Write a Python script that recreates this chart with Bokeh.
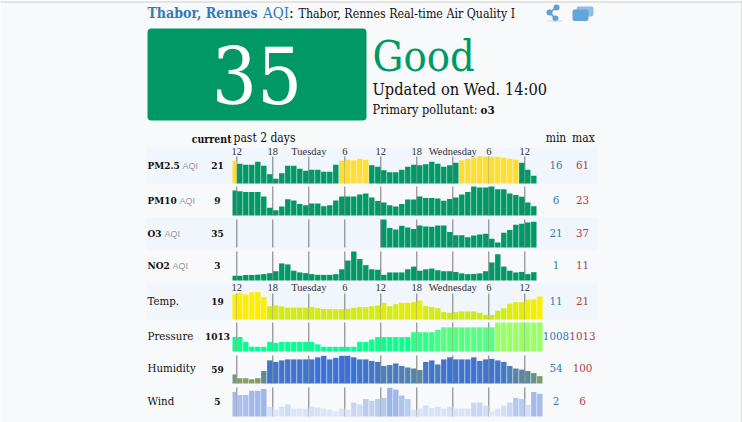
from bokeh.core.properties import value
from bokeh.embed import file_html
from bokeh.models import Range1d
from bokeh.plotting import figure
from bokeh.resources import INLINE

PM25 = [52,46,44,44,50,42,25,16,27,42,42,36,32,34,34,30,30,44,52,54,53,56,54,43,40,33,29,29,34,40,44,43,45,50,46,40,43,48,53,56,59,61,60,60,60,58,56,54,48,34,22]
PM10 = [20.1,19.6,19.1,19.1,19.1,15.8,7.7,6,8.6,13.9,12.9,10.5,9.6,10.8,10.8,8.9,9.6,12.9,15.8,15.8,15.8,17.2,18,15.1,12.5,11.5,9.6,8.6,10.5,13.6,13.6,15.8,14.8,14.8,14.4,12.7,14.1,15.1,17.2,19.1,23,22.3,22.3,23,21.1,21.1,18,16.8,15.6,11.5,8.9]
O3 = [37,31,30,32.6,31.4,30.3,32.8,32.1,31.9,32.8,32.8,28.2,26.1,26.1,24.7,25.9,26.6,27,23.6,21,27.7,29.6,33.3,34,34.9,35.4]
O3_FIRST_HOUR = 36
NO2 = [1,1,1.3,1.3,1.5,1.7,2.1,2.9,6.1,5.7,3.1,2.4,2.1,1.7,1.4,1.4,1.4,1.7,3.7,7.3,11,7.9,5.4,3.7,3.5,1.4,2.4,2.4,2.4,3.7,4.8,3.1,3.7,4,3.3,2.9,2.9,2.6,2,1.7,1.8,2,2.9,6.5,9.9,4.8,3.1,2.4,2.6,1.7,2.5]
TEMP = [20.1,20.7,20,21,21,18.8,14.8,15.1,14.7,14.2,14.2,14.2,14.2,14.4,13.9,13.6,13.6,13.5,13.5,13.6,14.1,14.4,14.4,14.8,15.1,16.3,14.8,15.7,16.3,16.3,16.6,17.3,14.8,14.4,13.9,12.2,11.9,12.2,12.5,12.5,12.5,11.9,11,11,12.8,13.9,15.9,16.6,16.6,17.8,17.9,19.1]
PRESSURE = [1010,1010,1009,1008,1008,1008,1009,1008.8,1009,1009,1009,1009,1009,1009,1008.5,1008,1008,1008,1008,1008,1008,1009,1009,1009.5,1010,1010,1010,1010,1010,1010,1011,1011,1011,1011,1011.5,1012,1012,1012,1012,1012,1012,1012,1012,1012,1013,1013,1013,1013,1013,1013,1013,1013]
HUMIDITY = [63,56,56,54,56,70,91,88,91,93,93,93,93,93,97,100,93,96,100,100,97,93,93,90,88,80,82,85,80,77,75,72,88,91,83,93,97,93,93,93,97,90,93,94,91,88,80,75,73,70,66,60]
WIND = [5.3,4.8,4.8,5.5,5.5,5.8,2.8,2.3,2.8,3.2,2.5,2.5,2.5,2.8,2.7,2.5,2.3,2,2.5,2.3,3.5,3.2,4.1,3.8,4.1,4.3,6,5.7,4.7,4.1,2.3,2.5,3,2.6,2.8,2.5,2.8,2.5,2.5,2.5,3.5,3.5,3,2,2.5,3,3.5,4.3,4.1,3.1,5.3,5]

TICK_HOURS = [12,18,24,30,36,42,48,54,60]
TICK_LABELS = ["12","18","Tuesday","6","12","18","Wednesday","6","12"]
ROW_NAMES = ["PM2.5","PM10","O3","NO2","Temp.","Pressure","Humidity","Wind"]
CURRENT = ["21","9","35","3","19","1013","59","5"]
MINS = ["16","6","21","1","11","1008","54","2"]
MAXS = ["61","23","37","11","21","1013","100","6"]

SERIF = "DejaVu Serif Condensed"
SANS = "Liberation Sans"
NARROW = "Liberation Sans Narrow"
BG = "#f8f9fa"
GREEN = "#009966"
BLUE = "#337ab7"
RED = "#b23a48"

def lerp_color(v, stops):
    if v <= stops[0][0]:
        return stops[0][1]
    for (a, ca), (b, cb) in zip(stops, stops[1:]):
        if v <= b:
            t = (v - a) / (b - a)
            rgb = [round(int(ca[i:i+2],16)*(1-t)+int(cb[i:i+2],16)*t) for i in (1,3,5)]
            return "#%02x%02x%02x" % tuple(rgb)
    return stops[-1][1]

aqi_col = lambda v: "#ffde33" if v > 50 else GREEN
temp_col = lambda v: lerp_color(v, [(11,"#cbe91e"),(15,"#d4ec14"),(17,"#e6ee08"),(18.5,"#ffee00")])
pres_col = lambda v: lerp_color(v, [(1008,"#00ff99"),(1010,"#0cff8c"),(1011,"#33ff88"),(1012,"#55ff80"),(1013,"#99ff66")])
hum_col = lambda v: lerp_color(v, [(54,"#8e9a62"),(60,"#7f9a70"),(70,"#5f8a98"),(80,"#4f7fb4"),(90,"#4276c8"),(100,"#3a70d8")])
wind_col = lambda v: lerp_color(v, [(2,"#e0e8fa"),(3,"#d3def6"),(4,"#bccdf0"),(5,"#a8bdec"),(6,"#9db4ea")])

# series, first hour, colour, baseline px, px per unit, zero-height value, tick top px, label baseline px
ROWS = [
    (PM25, 11, aqi_col, 183, 0.504, 6.7, 156, 168.7),
    (PM10, 11, aqi_col, 215, 1.393, 2.17, 186, 204),
    (O3, O3_FIRST_HOUR, aqi_col, 247, 1.4375, 17.5, 219, 236.7),
    (NO2, 11, aqi_col, 280, 2.43, -0.92, 251, 268.7),
    (TEMP, 11, temp_col, 319, 2.267, 8.94, 293, 305),
    (PRESSURE, 11, pres_col, 351, 4.87, 1007.04, 322, 339.7),
    (HUMIDITY, 11, hum_col, 383, 0.507, 45.46, 355, 372.3),
    (WIND, 11, wind_col, 416, 5.92, 1.155, 387, 404.7),
]

W, H = 742, 422
PX_PER_HOUR = 6.0
X12 = 236.3
LEFT_EDGE = 232.0

p = figure(width=W, height=H, output_backend="svg", toolbar_location=None,
           x_range=Range1d(0, W), y_range=Range1d(H, 0), min_border=0,
           background_fill_color=BG, border_fill_color=BG, outline_line_color=None)
p.axis.visible = False
p.grid.visible = False
p.extra_x_ranges["hours"] = Range1d(12 - X12/PX_PER_HOUR, 12 + (W - X12)/PX_PER_HOUR)

def txt(x, y, s, size, color="#111111", bold=False, align="left", font=SERIF, **kw):
    p.text([x], [y - 0.38*size], text=[s], text_font=value(font), text_font_size=f"{size}px", text_color=color,
           text_font_style="bold" if bold else "normal", text_align=align, text_baseline="alphabetic", **kw)

# window frame, table bands
p.segment([0, 741.5],[1.5, 1],[W, 741.5],[1.5, H], line_color="#cfcfcf", line_width=1.2)
for top, bot in [(147,184),(217,250),(283,320)]:
    p.quad(left=[146], right=[597], top=[top], bottom=[bot], fill_color="#f1f6fc", line_color=None)

# heading
txt(147, 18, "Thabor, Rennes", 14, BLUE, True)
txt(262.5, 18, "AQI", 15, BLUE)
txt(288.5, 18, ":", 15.5, "#111111")
txt(298, 18, "Thabor, Rennes Real-time Air Quality I", 12.3, "#111111")

# share icon
p.segment([556,549],[7,12],[549,555],[12,18], line_color="#6fa8d6", line_width=2)
p.scatter([556,549,555],[7,12,18], size=6, fill_color="#5f9fd2", line_color=None)
p.segment([547],[20.5],[562],[20.5], line_color="#d5d8da", line_width=1)
# window icon
p.quad(left=[576], right=[593], top=[6], bottom=[16], fill_color="#8fbfe2", line_color=None, border_radius=2)
p.quad(left=[572], right=[588], top=[9], bottom=[20.5], fill_color="#62a5da", line_color=None, border_radius=2)

# AQI panel
p.quad(left=[147], right=[366], top=[28], bottom=[120], fill_color=GREEN, line_color=None, border_radius=4)
txt(256.5, 105, "35", 79, "#ffffff", align="center")
txt(372, 72, "Good", 43, GREEN)
txt(372, 95, "Updated on Wed. 14:00", 16.3)
txt(372, 114, "Primary pollutant: ", 12.6)
txt(480, 114, "o3", 11.5, bold=True)

# column heads
txt(231, 142, "current", 10.5, bold=True, align="right")
txt(233, 142, "past 2 days", 12)
txt(555.5, 142, "min", 12, align="center")
txt(583, 142, "max", 12, align="center")

for i, (vals, first, col, base, k, v0, tick_top, text_y) in enumerate(ROWS):
    rng = f"row{i}"
    p.extra_y_ranges[rng] = Range1d(v0 - (H - base)/k, v0 + base/k)
    # hour rules behind the bars
    p.segment(TICK_HOURS, [tick_top]*len(TICK_HOURS), TICK_HOURS, [base]*len(TICK_HOURS),
              x_range_name="hours", line_color="#777777", line_width=1)
    hours = [first + j for j in range(len(vals))]
    clip = 12 - (X12 - LEFT_EDGE)/PX_PER_HOUR
    lefts = [max(h + 0.05, clip) for h in hours]
    rights = [h + 0.95 for h in hours]
    p.quad(left=lefts, right=rights, top=vals, bottom=[v0]*len(vals), x_range_name="hours", y_range_name=rng,
           fill_color=[col(v) for v in vals], line_color=None)

    name = ROW_NAMES[i]
    if i < 4:
        txt(147, text_y, name, 10, bold=True)
        nx = {0: 182, 1: 179, 2: 164, 3: 172}[i]
        txt(nx, text_y, "AQI", 9, "#999999", font=SANS)
    else:
        txt(147, text_y, name, 11.4)
    txt(217, text_y, CURRENT[i], 10, bold=True, align="center")
    txt(555.5, text_y, MINS[i], 11.5, BLUE, align="center")
    txt(582, text_y, MAXS[i], 11.5, RED, align="center")

for ly in (155, 291):
    p.text(TICK_HOURS, [ly - 4]*len(TICK_HOURS), text=TICK_LABELS, x_range_name="hours", text_font=value(NARROW),
           text_font_size="10.5px", text_color="#333333", text_align="center", text_baseline="alphabetic")

open("out.html", "w").write(file_html(p, INLINE))
